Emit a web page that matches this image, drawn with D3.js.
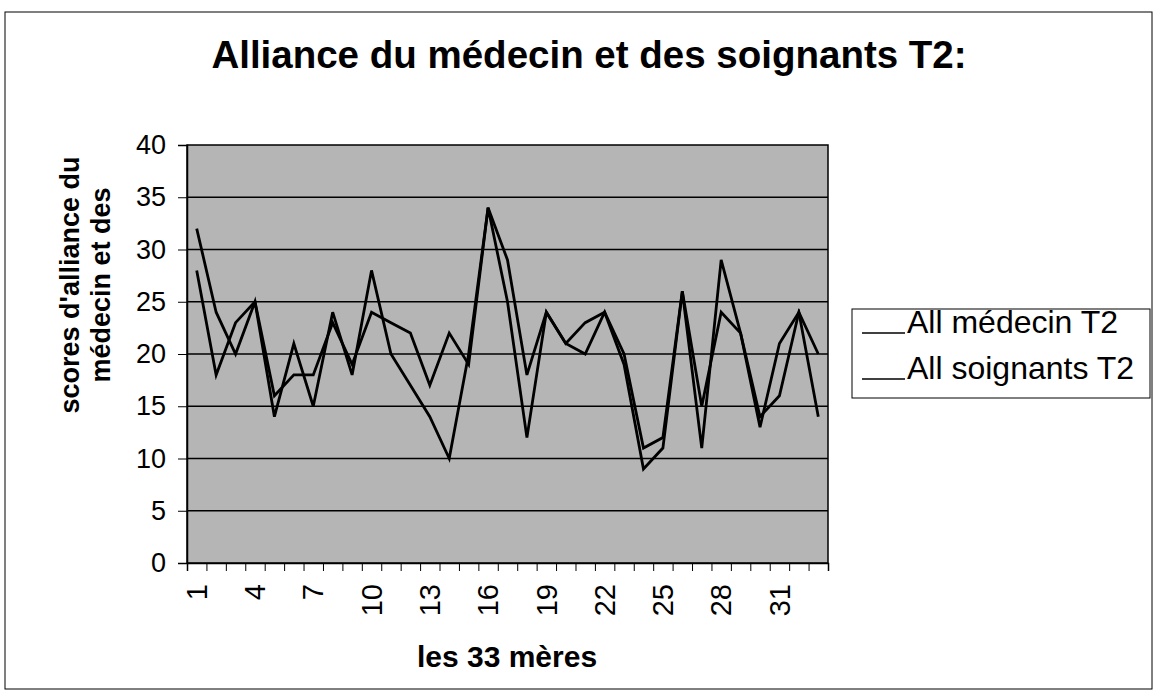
<!DOCTYPE html>
<html><head><meta charset="utf-8">
<script src="https://cdn.jsdelivr.net/npm/d3@7"></script>
<style>
body{margin:0;background:#fff}
text{font-family:Arial,"Liberation Sans",sans-serif;fill:#000}
</style>
</head><body>
<svg id="c" width="1156" height="694"></svg>
<script>
const categories = [1,2,3,4,5,6,7,8,9,10,11,12,13,14,15,16,17,18,19,20,21,22,23,24,25,26,27,28,29,30,31,32,33];
const medecinT2   = [32,24,20,25,14,21,15,24,18,28,20,17,14,10,20,34,25,12,24,21,23,24,20,11,12,26,15,24,22,14,16,24,20];
const soignantsT2 = [28,18,23,25,16,18,18,23,19,24,23,22,17,22,19,34,29,18,24,21,20,24,19,9,11,26,11,29,22,13,21,24,14];
const yTicks = [0,5,10,15,20,25,30,35,40];
const xTickLabels = [1,4,7,10,13,16,19,22,25,28,31];
const seriesNames = ["All médecin T2","All soignants T2"];

const svg = d3.select("#c");
const L=187, R=828, T=145, B=563;

// outer frame
svg.append("rect").attr("x",5).attr("y",12).attr("width",1147).attr("height",677)
  .attr("fill","none").attr("stroke","#000").attr("stroke-width",1);

const x = d3.scaleBand().domain(categories).range([L,R]).padding(0);
const xb = d3.scaleLinear().domain([0,categories.length]).range([L,R]);
const y = d3.scaleLinear().domain([0,40]).range([B,T]);

// plot area
svg.append("rect").attr("x",L).attr("y",T).attr("width",R-L).attr("height",B-T)
  .attr("fill","#b5b5b5").attr("stroke","#000").attr("stroke-width",1.5);

// gridlines
svg.append("g").selectAll("line").data(yTicks.filter(d=>d>0&&d<40)).join("line")
  .attr("x1",L).attr("x2",R).attr("y1",d=>y(d)).attr("y2",d=>y(d))
  .attr("stroke","#000").attr("stroke-width",1.5);

// y axis
const ya = svg.append("g").attr("transform",`translate(${L},0)`)
  .call(d3.axisLeft(y).tickValues(yTicks).tickSize(9).tickPadding(12));
ya.select(".domain").attr("stroke","#000").attr("stroke-width",1.5);
ya.selectAll("text").attr("font-size",27);

// x axis ticks at boundaries
const xa = svg.append("g").attr("transform",`translate(0,${B})`)
  .call(d3.axisBottom(xb).tickValues(d3.range(0,categories.length+1)).tickFormat("").tickSize(8));
xa.select(".domain").attr("stroke","#000").attr("stroke-width",1.5);

// x labels
const xl = svg.append("g").attr("transform",`translate(0,${B})`)
  .call(d3.axisBottom(x).tickValues(xTickLabels).tickSize(0));
xl.select(".domain").remove();
xl.selectAll("text").attr("font-size",29)
  .attr("transform","rotate(-90)").attr("text-anchor","end")
  .attr("x",-21).attr("y",0).attr("dy","0.35em");

// lines
const line = d3.line().x((d,i)=>x(categories[i])+x.bandwidth()/2).y(d=>y(d));
[medecinT2,soignantsT2].forEach(s=>{
  svg.append("path").datum(s).attr("d",line).attr("fill","none")
    .attr("stroke","#000").attr("stroke-width",2.8).attr("stroke-linejoin","miter");
});

// title
svg.append("text").attr("x",589).attr("y",68).attr("text-anchor","middle")
  .attr("font-size",38.5).attr("font-weight","bold").text("Alliance du médecin et des soignants T2:");

// axis titles
svg.append("text").attr("x",507).attr("y",667).attr("text-anchor","middle")
  .attr("font-size",30).attr("font-weight","bold").text("les 33 mères");
const yt = svg.append("text").attr("transform","translate(79,285) rotate(-90)")
  .attr("text-anchor","middle").attr("font-size",27).attr("font-weight","bold");
yt.append("tspan").attr("x",0).attr("dy",0).text("scores d'alliance du");
yt.append("tspan").attr("x",0).attr("dy",31).text("médecin et des");

// legend
const lg = svg.append("g");
lg.append("rect").attr("x",852).attr("y",309).attr("width",298).attr("height",89)
  .attr("fill","#fff").attr("stroke","#000").attr("stroke-width",1);
seriesNames.forEach((n,i)=>{
  const yy = 333 + i*46;
  lg.append("line").attr("x1",862).attr("x2",905).attr("y1",yy).attr("y2",yy)
    .attr("stroke","#000").attr("stroke-width",1.5);
  lg.append("text").attr("x",907).attr("y",yy).attr("font-size",32).text(n);
});
</script>
</body></html>
